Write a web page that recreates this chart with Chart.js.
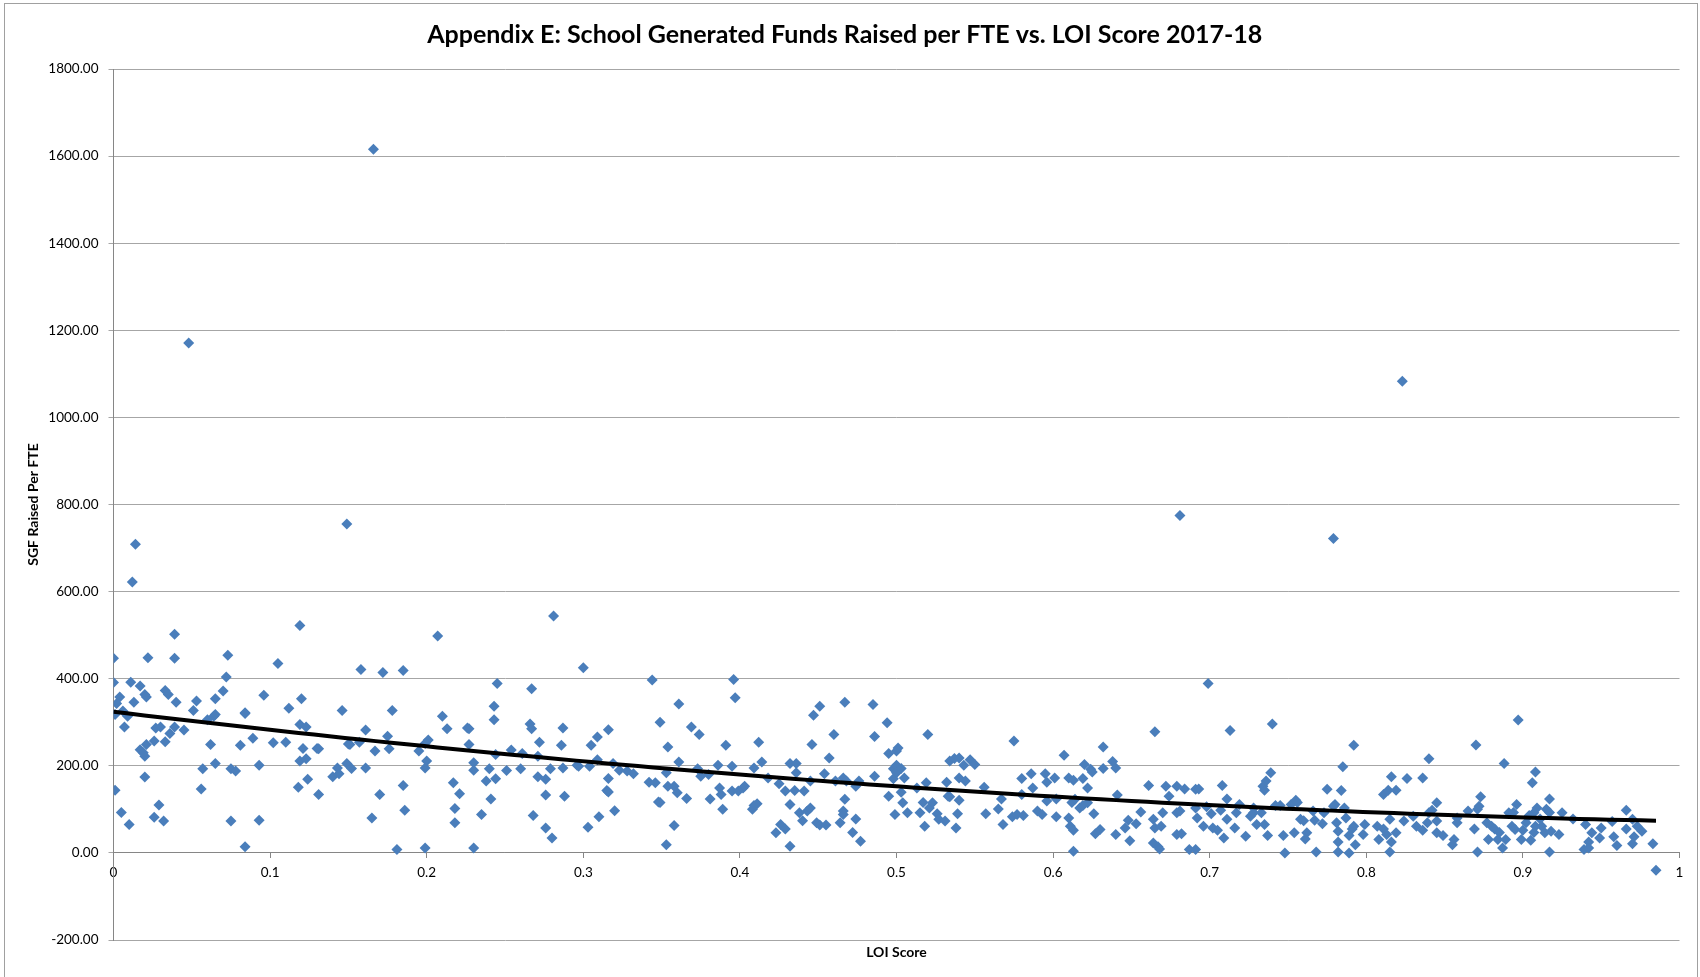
<!DOCTYPE html>
<html>
<head>
<meta charset="utf-8">
<script src="https://cdn.jsdelivr.net/npm/chart.js@4.4.1/dist/chart.umd.min.js"></script>
<style>
html,body{margin:0;padding:0;background:#fff;}
#wrap{position:relative;width:1700px;height:977px;}
</style>
</head>
<body>
<div id="wrap"><canvas id="c"></canvas></div>
<script>
const chartTitle = 'Appendix E: School Generated Funds Raised per FTE vs. LOI Score 2017-18';
const xAxisTitle = 'LOI Score';
const yAxisTitle = 'SGF Raised Per FTE';
const xTickValues = [0, 0.1, 0.2, 0.3, 0.4, 0.5, 0.6, 0.7, 0.8, 0.9, 1];
const xTickLabels = ['0', '0.1', '0.2', '0.3', '0.4', '0.5', '0.6', '0.7', '0.8', '0.9', '1'];
const yTickValues = [-200, 0, 200, 400, 600, 800, 1000, 1200, 1400, 1600, 1800];
const yTickLabels = ['-200.00', '0.00', '200.00', '400.00', '600.00', '800.00', '1000.00', '1200.00', '1400.00', '1600.00', '1800.00'];

const loiScore = [
0.012,0.039,0.119,0.000,0.022,0.039,0.073,0.105,0.158,0.172,0.000,0.011,0.017,0.072,0.004,0.020,0.021,0.033,0.035,0.070,
0.002,0.013,0.040,0.053,0.065,0.096,0.120,0.112,0.001,0.006,0.009,0.051,0.084,0.146,0.007,0.027,0.030,0.039,0.045,0.060,
0.064,0.065,0.084,0.119,0.123,0.161,0.033,0.036,0.026,0.017,0.021,0.020,0.019,0.062,0.081,0.089,0.102,0.110,0.121,0.130,
0.131,0.150,0.151,0.157,0.167,0.057,0.065,0.075,0.078,0.093,0.119,0.123,0.140,0.143,0.144,0.149,0.152,0.161,0.020,0.001,
0.056,0.118,0.124,0.131,0.170,0.005,0.010,0.029,0.026,0.032,0.075,0.093,0.165,0.084,
0.166,0.048,0.014,0.149,0.681,0.779,0.823,
0.281,0.207,0.300,0.344,0.185,0.245,0.267,0.178,0.243,0.243,0.210,0.213,0.226,0.227,0.266,0.267,0.287,0.316,0.349,0.309,
0.175,0.176,0.272,0.286,0.305,0.201,0.199,0.195,0.227,0.244,0.254,0.261,0.271,0.354,0.200,0.199,0.230,0.230,0.240,0.251,
0.260,0.279,0.287,0.296,0.297,0.304,0.309,0.319,0.323,0.328,0.332,0.316,0.238,0.244,0.271,0.276,0.342,0.346,0.354,0.217,
0.185,0.221,0.315,0.316,0.276,0.288,0.241,0.348,0.218,0.186,0.218,0.235,0.268,0.310,0.320,0.276,0.280,0.303,0.181,0.199,
0.230,0.353,
0.396,0.397,0.361,0.369,0.374,0.361,0.353,0.358,0.360,0.366,0.349,0.358,0.373,0.375,0.380,0.381,0.386,0.391,0.387,0.388,
0.389,0.395,0.395,0.399,0.402,0.403,0.409,0.412,0.414,0.409,0.411,0.408,0.418,0.425,0.429,0.423,0.426,0.429,0.432,0.432,
0.432,0.436,0.436,0.435,0.438,0.440,0.441,0.443,0.445,0.445,0.446,0.447,0.451,0.449,0.451,0.455,0.454,0.457,0.460,0.461,
0.464,0.466,0.467,0.466,0.467,0.468,0.466,0.472,0.474,0.474,0.476,0.477,0.485,0.486,0.486,0.494,0.495,0.495,0.499,0.498,
0.498,0.500,0.500,0.501,0.500,0.503,0.503,0.504,0.505,0.507,0.513,0.515,0.517,0.518,0.519,0.520,0.521,0.523,0.526,0.527,
0.531,0.532,0.534,0.533,
0.699,0.665,0.575,0.713,0.632,0.607,0.537,0.540,0.547,0.550,0.543,0.620,0.624,0.625,0.638,0.640,0.632,0.540,0.544,0.556,
0.580,0.586,0.587,0.595,0.596,0.601,0.610,0.613,0.619,0.622,0.534,0.540,0.567,0.580,0.596,0.602,0.612,0.614,0.617,0.619,
0.622,0.641,0.557,0.565,0.574,0.577,0.581,0.590,0.593,0.602,0.626,0.610,0.611,0.613,0.539,0.538,0.568,0.627,0.630,0.640,
0.613,0.646,0.648,0.649,0.653,0.656,0.661,0.664,0.665,0.664,0.667,0.668,0.669,0.670,0.672,0.674,0.679,0.679,0.679,0.682,
0.681,0.684,0.687,0.691,0.691,0.693,0.691,0.692,0.696,0.698,0.701,0.702,0.705,0.708,0.709,0.707,0.711,0.711,
0.740,0.792,0.870,0.840,0.888,0.785,0.739,0.736,0.734,0.735,0.719,0.717,0.716,0.723,0.726,0.728,0.730,0.733,0.735,0.737,
0.742,0.745,0.747,0.748,0.752,0.755,0.756,0.754,0.758,0.760,0.762,0.761,0.766,0.767,0.768,0.772,0.773,0.775,0.779,0.780,
0.781,0.782,0.782,0.782,0.784,0.786,0.787,0.789,0.789,0.791,0.792,0.793,0.799,0.798,0.807,0.808,0.811,0.811,0.813,0.814,
0.815,0.816,0.815,0.816,0.819,0.819,0.824,0.826,0.830,0.832,0.836,0.836,0.839,0.840,0.842,0.845,0.845,0.849,0.845,0.855,
0.856,0.858,0.858,0.865,0.869,0.871,0.872,0.873,0.871,0.877,0.878,0.880,0.882,0.885,0.884,0.887,0.889,0.891,0.728,
0.897,0.908,0.906,0.917,0.896,0.894,0.909,0.907,0.915,0.917,0.925,0.932,0.940,0.957,0.966,0.970,0.973,0.976,0.971,0.970,
0.966,0.950,0.949,0.944,0.942,0.939,0.942,0.958,0.960,0.983,0.985,0.893,0.895,0.899,0.900,0.902,0.905,0.907,0.908,0.911,
0.912,0.914,0.917,0.918,0.923,0.904
];

const sgfPerFte = [
622,502,522,447,448,447,454,435,421,414,391,392,383,404,358,364,358,373,364,372,
343,346,346,349,354,362,354,332,318,326,314,327,322,327,289,287,289,289,282,306,
314,318,320,295,289,282,255,274,257,237,249,222,230,249,247,263,253,254,240,240,
239,250,249,254,234,193,205,193,188,201,211,216,175,195,182,205,194,195,174,144,
147,151,169,134,134,93,65,110,82,73,73,75,80,14,
1616,1171,709,755,775,722,1083,
544,498,425,397,419,389,377,327,337,306,314,285,287,285,296,285,287,283,300,266,
268,239,254,247,247,259,251,234,249,226,236,228,222,243,211,195,207,190,193,189,
193,193,195,201,199,199,214,205,190,188,182,171,165,170,175,169,162,161,153,161,
155,136,143,140,133,130,124,117,102,98,69,88,86,83,97,57,34,59,8,11,
11,19,
398,356,342,289,272,209,184,153,138,125,116,63,193,176,180,124,201,247,149,134,
100,199,142,142,149,153,195,254,209,109,113,100,172,159,142,46,65,55,15,111,
205,205,184,143,92,74,142,96,103,165,249,316,337,69,64,64,182,218,272,165,
69,96,123,172,346,165,88,47,78,153,165,27,341,267,176,299,228,130,88,193,
170,201,234,241,184,194,139,115,172,92,149,92,116,61,161,272,103,115,90,77,
73,162,211,130,
389,278,257,281,243,224,217,218,214,203,201,203,192,186,210,195,194,172,165,151,
171,182,149,182,162,172,172,167,171,149,129,121,124,134,119,124,116,123,103,109,
115,133,90,101,83,88,86,96,88,83,90,80,61,52,90,57,65,44,54,42,
4,57,75,28,67,94,155,77,57,23,14,9,61,92,153,130,153,92,42,44,
96,147,8,8,146,147,103,80,61,106,90,57,52,155,34,98,124,77,
296,247,248,216,205,198,184,165,153,144,111,92,57,38,84,92,65,92,65,40,
109,109,40,0,111,121,116,46,77,74,46,32,96,75,2,67,92,146,107,111,
69,50,25,2,143,103,80,40,0,55,61,19,65,42,61,31,134,55,42,144,
77,25,2,175,144,46,73,171,84,61,172,52,69,92,98,115,46,40,73,19,
31,69,80,96,55,100,107,129,2,69,31,61,55,47,31,11,31,92,103,
305,186,161,124,111,93,103,92,100,93,92,78,65,72,98,77,61,50,37,21,
55,57,34,46,25,8,11,37,17,21,-40,61,54,31,52,69,29,47,61,78,
61,46,2,50,42,86
];

// Quadratic least-squares trendline (as Excel's polynomial order-2 trendline) computed from the data
function polyFit2(xs, ys) {
  let n = xs.length, s1=0, s2=0, s3=0, s4=0, t0=0, t1=0, t2=0;
  for (let i = 0; i < n; i++) {
    const x = xs[i], y = ys[i], x2 = x*x;
    s1 += x; s2 += x2; s3 += x2*x; s4 += x2*x2;
    t0 += y; t1 += x*y; t2 += x2*y;
  }
  const M = [[n, s1, s2, t0], [s1, s2, s3, t1], [s2, s3, s4, t2]];
  for (let c = 0; c < 3; c++) {
    for (let r = c + 1; r < 3; r++) {
      const f = M[r][c] / M[c][c];
      for (let k = c; k < 4; k++) M[r][k] -= f * M[c][k];
    }
  }
  const b = [0, 0, 0];
  for (let r = 2; r >= 0; r--) {
    let s = M[r][3];
    for (let k = r + 1; k < 3; k++) s -= M[r][k] * b[k];
    b[r] = s / M[r][r];
  }
  return b;
}
const coef = polyFit2(loiScore, sgfPerFte);
const xMin = Math.min(...loiScore), xMax = Math.max(...loiScore);
const trendPoints = [];
for (let i = 0; i <= 100; i++) {
  const x = xMin + (xMax - xMin) * i / 100;
  trendPoints.push({x: x, y: coef[0] + coef[1]*x + coef[2]*x*x});
}

const scatterPoints = loiScore.map((x, i) => ({x: x, y: sgfPerFte[i]}));

const frame = {
  id: 'frame',
  beforeDraw(chart) {
    const ctx = chart.ctx;
    ctx.save();
    ctx.fillStyle = '#ffffff';
    ctx.fillRect(0, 0, chart.width, chart.height);
    ctx.strokeStyle = '#a0a0a0';
    ctx.lineWidth = 1;
    ctx.strokeRect(4.5, 3.5, 1693, 1000);
    ctx.restore();
  }
};

Chart.defaults.font.family = 'Lato, "Open Sans", sans-serif';
Chart.defaults.color = '#000000';

new Chart(document.getElementById('c'), {
  type: 'scatter',
  data: {
    datasets: [
      {
        label: 'Trend',
        type: 'line',
        data: trendPoints,
        borderColor: '#000000',
        borderWidth: 4,
        pointRadius: 0,
        fill: false,
        tension: 0,
        order: 0
      },
      {
        label: 'SGF Raised Per FTE',
        data: scatterPoints,
        backgroundColor: '#4a7ebb',
        borderColor: '#4a7ebb',
        borderWidth: 0,
        pointStyle: 'rectRot',
        pointRadius: 5.5,
        order: 1
      }
    ]
  },
  options: {
    responsive: true,
    maintainAspectRatio: false,
    animation: false,
    devicePixelRatio: 1,
    layout: { padding: { left: 10, right: 20.5, top: 0, bottom: 0 } },
    plugins: {
      legend: { display: false },
      tooltip: { enabled: false },
      title: {
        display: true,
        text: chartTitle,
        font: { size: 25, weight: 'bold' },
        color: '#000000',
        padding: { top: 19.6, bottom: 19.4 }
      }
    },
    scales: {
      x: {
        type: 'linear',
        position: 'bottom',
        min: 0, max: 1,
        ticks: { display: false },
        grid: { display: false },
        border: { display: false },
        title: { display: true, text: xAxisTitle, font: { size: 14, weight: 'bold' }, padding: { top: 3.6, bottom: 16.6 } },
        afterFit(scale) { scale.height = 37; }
      },
      x2: {
        type: 'linear',
        axis: 'x',
        position: { y: 0 },
        min: 0, max: 1,
        afterBuildTicks(scale) { scale.ticks = xTickValues.map(v => ({ value: v })); },
        ticks: {
          font: { size: 13.5 },
          padding: 7,
          maxRotation: 0,
          autoSkip: false,
          callback: (v) => xTickLabels[xTickValues.indexOf(v)]
        },
        grid: { drawOnChartArea: false, drawTicks: true, tickLength: 5, color: '#868686' },
        border: { display: true, color: '#868686' }
      },
      y: {
        type: 'linear',
        position: 'left',
        min: -200, max: 1800,
        afterBuildTicks(scale) { scale.ticks = yTickValues.map(v => ({ value: v })); },
        ticks: {
          font: { size: 13.5 },
          padding: 10,
          autoSkip: false,
          callback: (v) => yTickLabels[yTickValues.indexOf(v)]
        },
        grid: { color: '#a6a6a6', tickLength: 5, drawTicks: true },
        border: { display: true, color: '#868686' },
        title: { display: true, text: yAxisTitle, font: { size: 14, weight: 'bold' }, padding: { top: 14.6, bottom: 0 } },
        afterFit(scale) { scale.width = 103.5; }
      }
    }
  },
  plugins: [frame]
});
</script>
</body>
</html>
